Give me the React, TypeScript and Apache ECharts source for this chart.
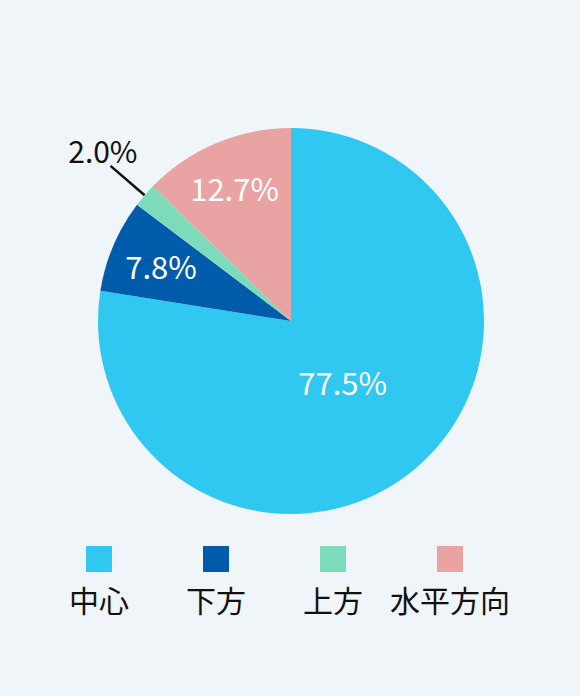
import { useEffect, useRef } from 'react'
import * as echarts from 'echarts'

const CATEGORIES = ['中心', '下方', '上方', '水平方向']
const VALUES = [77.5, 7.8, 2.0, 12.7]
const COLORS = ['#30c7f0', '#005bab', '#7bdbbb', '#e8a3a2']
// how far out each inside label sits, as a fraction of the radius (null = outside label)
const LABEL_RATIO = [0.4, 0.71, null, 0.73]

const W = 580
const H = 696
const FONT = '"Noto Sans CJK JP", "Noto Sans", sans-serif'

export default function App() {
  const ref = useRef<HTMLDivElement>(null)

  useEffect(() => {
    if (!ref.current) return
    const chart = echarts.init(ref.current, null, { renderer: 'svg' })
    const cx = 291
    const cy = 321

    const legendX = (i: number) => 99 + i * 117

    chart.setOption({
      animation: false,
      backgroundColor: '#f0f5fa',
      textStyle: { fontFamily: FONT },
      series: [
        {
          type: 'pie',
          center: [cx, cy],
          radius: 193,
          startAngle: 90,
          clockwise: true,
          avoidLabelOverlap: false,
          label: {
            show: true,
            position: 'inside',
            color: '#fff',
            fontSize: 31,
            fontFamily: FONT,
            formatter: (p: any) => p.value.toFixed(1) + '%',
          },
          labelLayout: (p: any) => {
            const ratio = LABEL_RATIO[p.dataIndex]
            const r = p.labelRect
            const lx = r.x + r.width / 2
            const ly = r.y + r.height / 2
            if (ratio == null) return { dx: 32, dy: -16 }
            const k = ratio / 0.5 - 1
            return { dx: (lx - cx) * k, dy: (ly - cy) * k }
          },
          data: CATEGORIES.map((name, i) => {
            const item: any = {
              name,
              value: VALUES[i],
              itemStyle: { color: COLORS[i] },
            }
            if (LABEL_RATIO[i] == null) {
              item.label = { position: 'outside', color: '#111', fontSize: 30 }
              item.labelLine = {
                show: true,
                length: 45,
                length2: 0,
                lineStyle: { color: '#111', width: 2.5 },
              }
            }
            return item
          }),
        },
      ],
      graphic: CATEGORIES.flatMap((name, i) => [
        {
          type: 'rect',
          shape: { x: legendX(i) - 13, y: 546, width: 26, height: 26 },
          style: { fill: COLORS[i] },
        },
        {
          type: 'text',
          x: legendX(i),
          y: 599,
          style: {
            text: name,
            fill: '#111',
            font: `30px ${FONT}`,
            textAlign: 'center',
            textVerticalAlign: 'middle',
          },
        },
      ]),
    })

    return () => chart.dispose()
  }, [])

  return (
    <div
      ref={ref}
      style={{ position: 'absolute', left: 0, top: 0, width: W, height: H }}
    />
  )
}
